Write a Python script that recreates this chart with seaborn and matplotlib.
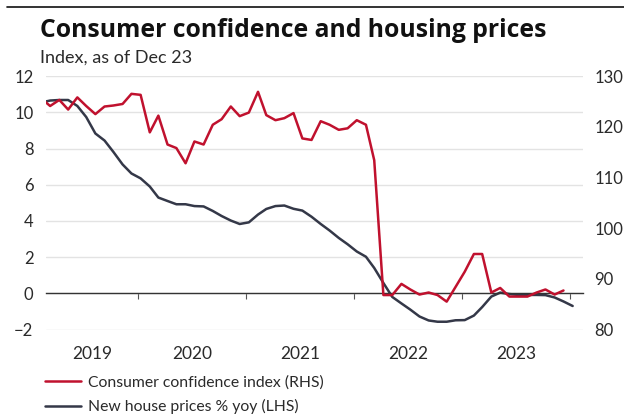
import numpy as np
import pandas as pd
import matplotlib
matplotlib.use("Agg")
import matplotlib.pyplot as plt
from matplotlib.lines import Line2D
import seaborn as sns

# ---- data -------------------------------------------------------------
# Consumer confidence index (right-hand scale), monthly Feb 2019 - Dec 2023
confidence = [
    125.5, 124.1, 125.3, 123.4, 125.8, 124.1, 122.5, 124.0, 124.2, 124.5, 126.5,          # 2019
    126.3, 118.9, 122.2, 116.5, 115.8, 112.8, 117.1, 116.5, 120.4, 121.5, 124.0, 122.1,   # 2020
    122.8, 126.9, 122.3, 121.3, 121.7, 122.7, 117.7, 117.4, 121.1, 120.4, 119.4, 119.7,   # 2021
    121.3, 120.4, 113.4, 86.8, 86.8, 89.0, 87.9, 86.9, 87.3, 86.8, 85.5, 88.4,            # 2022
    91.4, 94.9, 94.9, 87.3, 88.2, 86.5, 86.5, 86.5, 87.3, 87.9, 86.9, 87.7,               # 2023
]
# New house prices, % year on year (left-hand scale), monthly Feb 2019 - Jan 2024
house_prices = [
    10.55, 10.65, 10.68, 10.68, 10.35, 9.74, 8.83, 8.44, 7.81, 7.12, 6.62,               # 2019
    6.35, 5.90, 5.29, 5.10, 4.92, 4.92, 4.82, 4.80, 4.55, 4.27, 4.02, 3.83,              # 2020
    3.92, 4.35, 4.66, 4.82, 4.85, 4.67, 4.57, 4.23, 3.83, 3.47, 3.06, 2.71,              # 2021
    2.31, 2.02, 1.40, 0.57, -0.20, -0.56, -0.90, -1.28, -1.50, -1.57, -1.57, -1.49,      # 2022
    -1.48, -1.23, -0.76, -0.18, 0.04, -0.04, -0.09, -0.09, -0.09, -0.10, -0.23, -0.45,   # 2023
    -0.70,                                                                               # 2024
]
conf_dates = pd.date_range("2019-02-01", periods=len(confidence), freq="MS") + pd.Timedelta(days=9)
house_dates = pd.date_range("2019-02-01", periods=len(house_prices), freq="MS") + pd.Timedelta(days=9)

conf_df = pd.DataFrame({"date": conf_dates, "value": confidence})
house_df = pd.DataFrame({"date": house_dates, "value": house_prices})

label_years = [2019, 2020, 2021, 2022, 2023]
conf_label = "Consumer confidence index (RHS)"
house_label = "New house prices % yoy (LHS)"

RED = "#C0112E"
NAVY = "#343848"
TEXT = "#2a2a2a"

# ---- style ------------------------------------------------------------
sns.set_theme(style="white")
plt.rcParams["font.family"] = ["Lato", "DejaVu Sans"]

fig = plt.figure(figsize=(6.24, 4.17), dpi=100)
ax = fig.add_axes([0.0737, 0.2098, 0.8606, 0.6077])
ax2 = ax.twinx()

sns.lineplot(data=house_df, x="date", y="value", ax=ax, color=NAVY, lw=1.8, label=house_label, legend=False)
sns.lineplot(data=conf_df, x="date", y="value", ax=ax2, color=RED, lw=1.8, label=conf_label, legend=False)

x0 = pd.Timestamp("2019-02-24")
x1 = pd.Timestamp("2024-02-14")
ax.set_xlim(x0, x1)
ax.set_ylim(-2, 12)
ax2.set_ylim(80, 130)

# left axis: gridlines and labels
ax.set_yticks(np.arange(-2, 13, 2))
ax.grid(axis="y", color="#e3e3e3", lw=1)
ax.grid(axis="x", visible=False)
for a in (ax, ax2):
    a.set_xlabel("")
    a.set_ylabel("")
ax.tick_params(axis="y", length=0, pad=9, labelsize=12, labelcolor=TEXT)

# right axis labels
ax2.set_yticks(np.arange(80, 131, 10))
ax2.tick_params(axis="y", length=0, pad=8, labelsize=12, labelcolor=TEXT)
ax2.grid(False)

for a in (ax, ax2):
    for s in a.spines.values():
        s.set_visible(False)

# zero line with year-boundary ticks hanging from it
ax.spines["bottom"].set_visible(True)
ax.spines["bottom"].set_position(("data", 0))
ax.spines["bottom"].set_color("#333333")
ax.spines["bottom"].set_linewidth(1.0)
ax.set_xticks([pd.Timestamp(f"{y}-01-01") for y in range(2020, 2025)])
ax.tick_params(axis="x", direction="out", length=4, width=0.8, color="#555555", labelbottom=False, bottom=True)

# year labels centred on the visible part of each year
centres = []
for y in label_years:
    a = max(pd.Timestamp(f"{y}-01-01"), x0)
    b = min(pd.Timestamp(f"{y + 1}-01-01"), x1)
    centres.append(a + (b - a) / 2)
sec = ax.secondary_xaxis("bottom")
sec.set_xticks(centres, labels=[str(y) for y in label_years])
sec.tick_params(length=0, pad=12, labelsize=12.5, labelcolor=TEXT)
for s in sec.spines.values():
    s.set_visible(False)

# titles
fig.text(0.064, 0.911, "Consumer confidence and housing prices", fontsize=17.8, fontweight="bold",
         family=["Open Sans", "DejaVu Sans"], color="#111111", va="baseline", ha="left")
fig.text(0.064, 0.849, "Index, as of Dec 23", fontsize=13, color=TEXT, va="baseline", ha="left")
fig.add_artist(Line2D([0.011, 1.0], [0.983, 0.983], color="#111111", lw=1.2))

# legend
handles = [Line2D([], [], color=RED, lw=1.8), Line2D([], [], color=NAVY, lw=1.8)]
fig.legend(handles, [conf_label, house_label], loc="upper left", bbox_to_anchor=(0.072, 0.101),
           frameon=False, fontsize=11.3, handlelength=2.3, handletextpad=0.45,
           labelspacing=0.62, borderpad=0, borderaxespad=0, labelcolor=TEXT)

fig.savefig("out.png", dpi=100)
